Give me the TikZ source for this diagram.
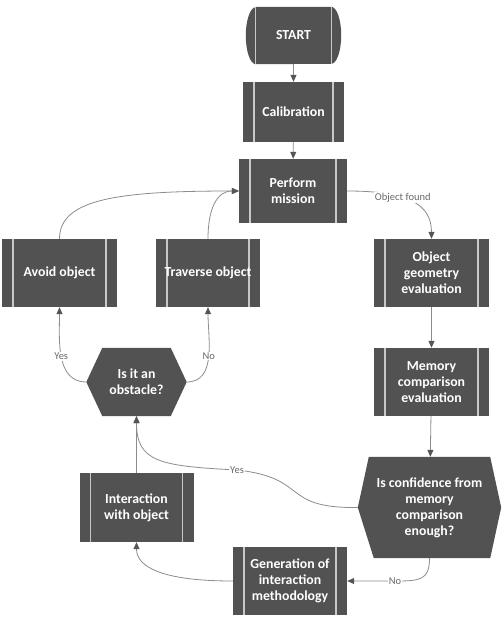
\documentclass[tikz,border=0pt]{standalone}
\usepackage{fontspec}
\setmainfont{Carlito}
\usetikzlibrary{arrows.meta,backgrounds}
\definecolor{boxfill}{RGB}{82,82,82}
\definecolor{innerline}{RGB}{200,200,200}
\definecolor{conncol}{RGB}{140,140,140}
\definecolor{arrowcol}{RGB}{85,85,85}
\definecolor{lblcol}{RGB}{105,105,105}
\begin{document}
\begin{tikzpicture}[x=1pt,y=-1pt,
  boxtext/.style={text=white, font=\bfseries\fontsize{13.8}{16}\selectfont, align=center, inner sep=0pt},
  proc/.style={rectangle, fill=boxfill, boxtext,
    path picture={\draw[innerline, line width=1.1pt]
      ([xshift=11pt]path picture bounding box.north west) -- ([xshift=11pt]path picture bounding box.south west)
      ([xshift=-11pt]path picture bounding box.north east) -- ([xshift=-11pt]path picture bounding box.south east);}},
  hexnode/.style={rectangle, boxtext},
  conn/.style={draw=conncol, line width=0.8pt, -{Triangle[length=7pt,width=6pt,color=arrowcol]}},
  lbl/.style={fill=white, inner sep=1pt, text=lblcol, font=\fontsize{10.5}{12}\selectfont}]
\useasboundingbox (0,0) rectangle (501,620);

% nodes
\node[hexnode, minimum width=95pt, minimum height=57pt] (start) at (293.5,35.5) {START};
\node[proc, minimum width=101pt, minimum height=60pt] (calib) at (293.5,112) {Calibration};
\node[proc, minimum width=108pt, minimum height=64pt] (pm) at (293,191) {Perform\\mission};
\node[proc, minimum width=115pt, minimum height=68pt] (avoid) at (59.5,273) {Avoid object};
\node[proc, minimum width=104pt, minimum height=68pt] (trav) at (208,273) {Traverse object};
\node[proc, minimum width=115pt, minimum height=68pt] (oge) at (431.5,273) {Object\\geometry\\evaluation};
\node[proc, minimum width=115pt, minimum height=68pt] (mem) at (431.5,382) {Memory\\comparison\\evaluation};
\node[hexnode, minimum width=100pt, minimum height=68pt] (obs) at (136.5,382) {Is it an\\obstacle?};
\node[hexnode, minimum width=143pt, minimum height=101pt] (conf) at (429.5,507.5) {Is confidence from\\memory\\comparison\\enough?};
\node[proc, minimum width=114pt, minimum height=69pt] (inter) at (136.5,507.5) {Interaction\\with object};
\node[proc, minimum width=114pt, minimum height=68pt] (gen) at (290,581) {Generation of\\interaction\\methodology};

\begin{scope}[on background layer]
  \fill[white] (0,0) rectangle (501,620);
  % START terminal
  \fill[boxfill] ([xshift=10pt]start.north west) -- ([xshift=-10pt]start.north east)
    arc[start angle=90,end angle=-90,x radius=10pt,y radius=28.5pt]
    -- ([xshift=10pt]start.south west)
    arc[start angle=270,end angle=90,x radius=10pt,y radius=28.5pt] -- cycle;
  \draw[innerline, line width=1.1pt]
    ([xshift=10pt]start.north west) -- ([xshift=10pt]start.south west)
    ([xshift=-10pt]start.north east) -- ([xshift=-10pt]start.south east);
  % hexagons
  \fill[boxfill] ([xshift=16pt]obs.north west) -- ([xshift=-16pt]obs.north east) -- (obs.east)
    -- ([xshift=-16pt]obs.south east) -- ([xshift=16pt]obs.south west) -- (obs.west) -- cycle;
  \fill[boxfill] ([xshift=11pt]conf.north west) -- ([xshift=-11pt]conf.north east) -- (conf.east)
    -- ([xshift=-11pt]conf.south east) -- ([xshift=16pt]conf.south west) -- (conf.west) -- cycle;
\end{scope}

% connectors
\coordinate (yesm) at (237,470);
\coordinate (nom) at (395,581);

\draw[conn] (start) -- (calib);
\draw[conn] (calib) -- (pm);
\draw[conn] (pm.east) .. controls +(60,0) and +(0,-35) .. node[lbl,pos=0.4] {Object found} (oge.north);
\draw[conn] (oge) -- (mem);
\draw[conn] (mem) -- (conf);
\draw[conn] (conf.west) .. controls +(-78,1) and +(73,8) .. (yesm) .. controls +(-77,-4) and +(0,46) .. (obs.south);
\node[lbl] at (yesm) {Yes};
\draw[conn] (obs.west) to[out=180,in=-90] node[lbl,pos=0.5] {Yes} (avoid.south);
\draw[conn] (obs.east) to[out=0,in=-90] node[lbl,pos=0.5] {No} (trav.south);
\draw[conn] (avoid.north) .. controls +(0,-40) and +(-120,0) .. (pm.west);
\draw[conn] (trav.north) .. controls +(0,-30) and +(-22,0) .. (pm.west);
\draw[conn] (inter) -- (obs);
\draw[conn] (gen.west) .. controls +(-70,0) and +(0,25) .. (inter.south);
\draw[conn] (conf.south) .. controls +(0,22) and +(25,0) .. (nom) -- (gen.east);
\node[lbl] at (nom) {No};
\end{tikzpicture}
\end{document}
